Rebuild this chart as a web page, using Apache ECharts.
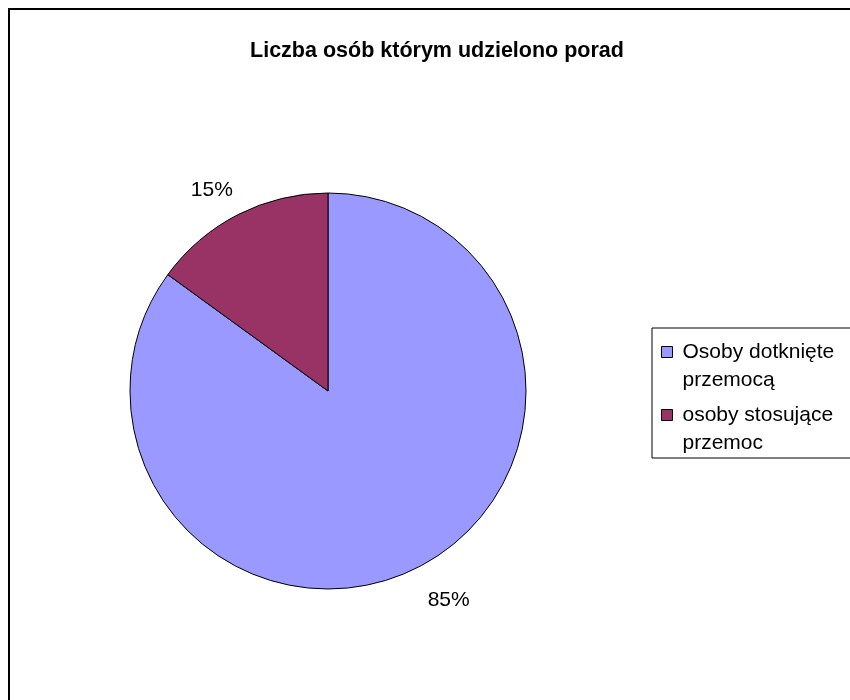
<!DOCTYPE html>
<html>
<head>
<meta charset="utf-8">
<script src="https://cdn.jsdelivr.net/npm/echarts@6/dist/echarts.min.js"></script>
<style>
  html, body { margin: 0; padding: 0; background: #fff; }
  #chart { width: 850px; height: 700px; }
</style>
</head>
<body>
<div id="chart"></div>
<script>
const titleText = 'Liczba osób którym udzielono porad'
const categories = ['Osoby dotknięte przemocą', 'osoby stosujące przemoc']
const values = [85, 15]
const colors = ['#9999FF', '#993366']
const labelLineLens = [37, 27]

let myChart = echarts.init(document.getElementById('chart'))

let option = {
  backgroundColor: '#ffffff',
  animation: false,
  title: {
    text: titleText,
    left: 432,
    top: 35,
    textAlign: 'center',
    textStyle: {
      fontFamily: 'Arial, Liberation Sans',
      fontSize: 21.5,
      fontWeight: 'bold',
      color: '#000'
    }
  },
  legend: {
    orient: 'vertical',
    left: 652,
    top: 328,
    // leading blank line keeps the marker level with the first text line
    padding: [-18, 20, 1, 9],
    borderColor: '#000',
    borderWidth: 1,
    itemWidth: 11,
    itemHeight: 11,
    itemGap: -21,
    icon: 'rect',
    itemStyle: {
      borderColor: '#000',
      borderWidth: 1
    },
    formatter: function (name) {
      let i = name.lastIndexOf(' ')
      return '\n' + name.slice(0, i) + '\n' + name.slice(i + 1)
    },
    textStyle: {
      fontFamily: 'Arial, Liberation Sans',
      fontSize: 21,
      lineHeight: 28,
      color: '#000',
      padding: [0, 0, 0, 5]
    }
  },
  graphic: [{
    type: 'rect',
    shape: { x: 9, y: 9, width: 900, height: 800 },
    style: { fill: 'none', stroke: '#000', lineWidth: 2 },
    silent: true
  }],
  series: [{
    type: 'pie',
    center: [328, 391],
    radius: 198,
    startAngle: 90,
    clockwise: true,
    avoidLabelOverlap: false,
    itemStyle: {
      borderColor: '#000',
      borderWidth: 1
    },
    label: {
      show: true,
      position: 'outside',
      formatter: '{d}%',
      distanceToLabelLine: -7,
      fontFamily: 'Arial, Liberation Sans',
      fontSize: 21,
      color: '#000'
    },
    labelLine: { show: false, length2: 0 },
    emphasis: { disabled: true },
    data: categories.map(function (name, i) {
      return {
        name: name,
        value: values[i],
        itemStyle: { color: colors[i] },
        labelLine: { show: false, length: labelLineLens[i], length2: 0 }
      }
    })
  }]
}
myChart.setOption(option)
</script>
</body>
</html>
